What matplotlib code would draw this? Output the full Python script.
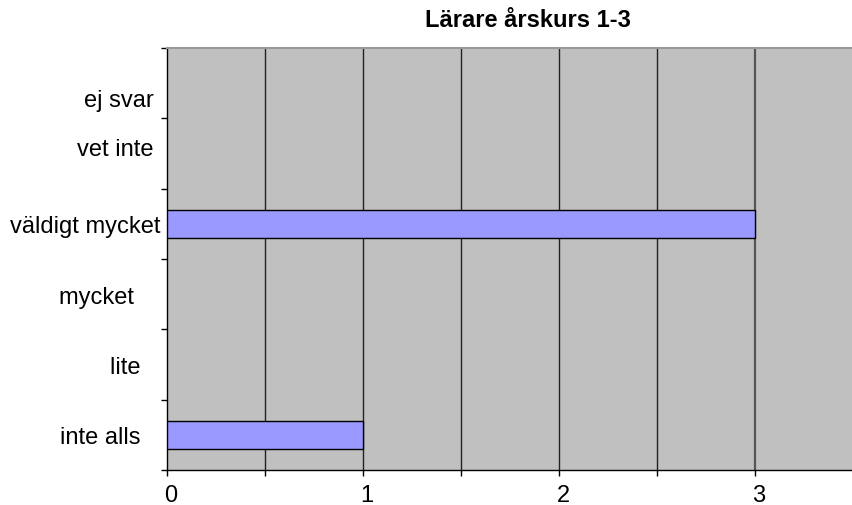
import numpy as np
import matplotlib
matplotlib.use('Agg')
import matplotlib.pyplot as plt
from matplotlib.transforms import ScaledTranslation

plt.rcParams['font.family'] = ['Liberation Sans', 'DejaVu Sans']

# survey answers, bottom to top
categories = ['inte alls', 'lite', 'mycket', 'väldigt mycket', 'vet inte', 'ej svar']
tick_labels = ['inte alls   ', 'lite   ', 'mycket    ', 'väldigt mycket', 'vet inte ', 'ej svar ']
counts = [1, 0, 0, 3, 0, 0]
# Excel put the two top labels a bit off centre
label_shift = [0, 0, 0, 0, 0.1, -0.2]
title = 'Lärare årskurs 1-3'

fig = plt.figure(figsize=(8.53, 5.06), dpi=100)
ax = fig.add_axes([0.1958, 0.0692, 0.8042, 0.834])
ax.set_facecolor('#C0C0C0')

y = np.arange(len(categories))
lws = [1 if c > 0 else 0 for c in counts]
ax.barh(y, counts, height=0.4, color='#9999FF', edgecolor='black', lw=lws, zorder=3)

ax.set_xlim(0, 3.5)
ax.set_ylim(-0.5, len(categories) - 0.5)

# gridlines every 0.5
for xv in np.arange(0.5, 3.5, 0.5):
    ax.axvline(xv, color='#222222' if xv != 3 else '#555555', lw=1 if xv != 3 else 1.6, zorder=1)

ax.set_xticks(np.arange(0, 3.5, 0.5))
ax.set_xticklabels(['0', '', '1', '', '2', '', '3'])
ax.tick_params(axis='x', length=4, width=1, labelsize=17, pad=6, direction='out')
shift = ScaledTranslation(4 / 100, 0, fig.dpi_scale_trans)
for lab in ax.get_xticklabels():
    lab.set_transform(lab.get_transform() + shift)

ax.set_yticks(np.arange(-0.5, len(categories), 1.0), minor=True)
ax.set_yticks(y + np.array(label_shift))
ax.set_yticklabels(tick_labels)
ax.tick_params(axis='y', which='major', length=0, labelsize=17, pad=5)
ax.tick_params(axis='y', which='minor', length=4, width=1, direction='out')

for s in ['left', 'bottom']:
    ax.spines[s].set_color('black')
    ax.spines[s].set_linewidth(1)
ax.spines['right'].set_visible(False)
ax.spines['top'].set_color('#999999')
ax.spines['top'].set_linewidth(1.5)

ax.set_title(title, fontsize=17, fontweight='bold', pad=16, x=0.526)

fig.savefig('out.png', dpi=100)
